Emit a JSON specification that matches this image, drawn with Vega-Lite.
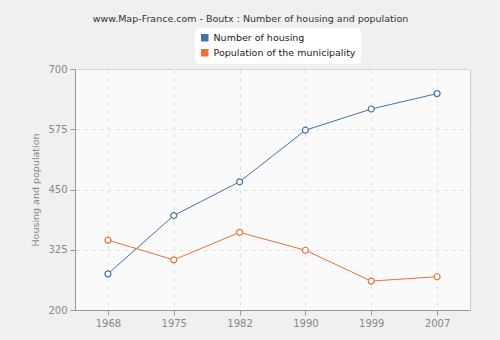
{
  "$schema": "https://vega.github.io/schema/vega-lite/v6.json",
  "width": 395,
  "height": 241,
  "autosize": "none",
  "padding": {"left": 75, "top": 69, "right": 30, "bottom": 30},
  "background": "#f0f0f0",
  "title": {
    "text": "www.Map-France.com - Boutx : Number of housing and population",
    "anchor": "middle",
    "dx": -22,
    "offset": 5,
    "fontSize": 9.5,
    "fontWeight": "normal",
    "font": "DejaVu Sans",
    "color": "#333333"
  },
  "config": {
    "font": "DejaVu Sans",
    "view": {"fill": "#fafafa", "stroke": "#cccccc"}
  },
  "data": {
    "values": [
      {"year": "1968", "series": "Number of housing", "value": 275},
      {"year": "1975", "series": "Number of housing", "value": 396},
      {"year": "1982", "series": "Number of housing", "value": 466},
      {"year": "1990", "series": "Number of housing", "value": 573},
      {"year": "1999", "series": "Number of housing", "value": 617},
      {"year": "2007", "series": "Number of housing", "value": 649},
      {"year": "1968", "series": "Population of the municipality", "value": 345},
      {"year": "1975", "series": "Population of the municipality", "value": 304},
      {"year": "1982", "series": "Population of the municipality", "value": 361},
      {"year": "1990", "series": "Population of the municipality", "value": 324},
      {"year": "1999", "series": "Population of the municipality", "value": 260},
      {"year": "2007", "series": "Population of the municipality", "value": 269}
    ]
  },
  "encoding": {
    "x": {
      "field": "year",
      "type": "ordinal",
      "scale": {"type": "point", "padding": 0.5},
      "axis": {
        "title": null,
        "labelAngle": 0,
        "labelColor": "#888888",
        "labelFontSize": 10,
        "grid": true,
        "gridDash": [4, 4],
        "gridColor": "#e0e0e0",
        "domainColor": "#999999",
        "tickColor": "#999999",
        "tickSize": 5,
        "labelPadding": 3
      }
    },
    "y": {
      "field": "value",
      "type": "quantitative",
      "scale": {"domain": [200, 700], "nice": false, "zero": false},
      "axis": {
        "title": "Housing and population",
        "titleColor": "#888888",
        "titleFontSize": 9.5,
        "titleFontWeight": "normal",
        "titlePadding": 7,
        "values": [200, 325, 450, 575, 700],
        "labelColor": "#888888",
        "labelFontSize": 10,
        "gridDash": [4, 4],
        "gridColor": "#e0e0e0",
        "domainColor": "#999999",
        "tickColor": "#999999",
        "tickSize": 5,
        "labelPadding": 3
      }
    },
    "color": {
      "field": "series",
      "type": "nominal",
      "scale": {
        "domain": ["Number of housing", "Population of the municipality"],
        "range": ["#4572a7", "#e8703a"]
      },
      "legend": {
        "title": null,
        "orient": "none",
        "legendX": 120,
        "legendY": -41,
        "fillColor": "#ffffff",
        "cornerRadius": 5,
        "padding": 5,
        "symbolType": "square",
        "symbolSize": 36,
        "labelFontSize": 9.5,
        "labelColor": "#222222",
        "rowPadding": 2
      }
    }
  },
  "layer": [
    {"mark": {"type": "line", "strokeWidth": 1}},
    {"mark": {"type": "point", "filled": true, "fill": "#ffffff", "size": 36, "strokeWidth": 1.2, "opacity": 1}, "encoding": {"stroke": {"field": "series", "type": "nominal", "legend": null, "scale": {"domain": ["Number of housing", "Population of the municipality"], "range": ["#4572a7", "#e8703a"]}}}}
  ]
}
